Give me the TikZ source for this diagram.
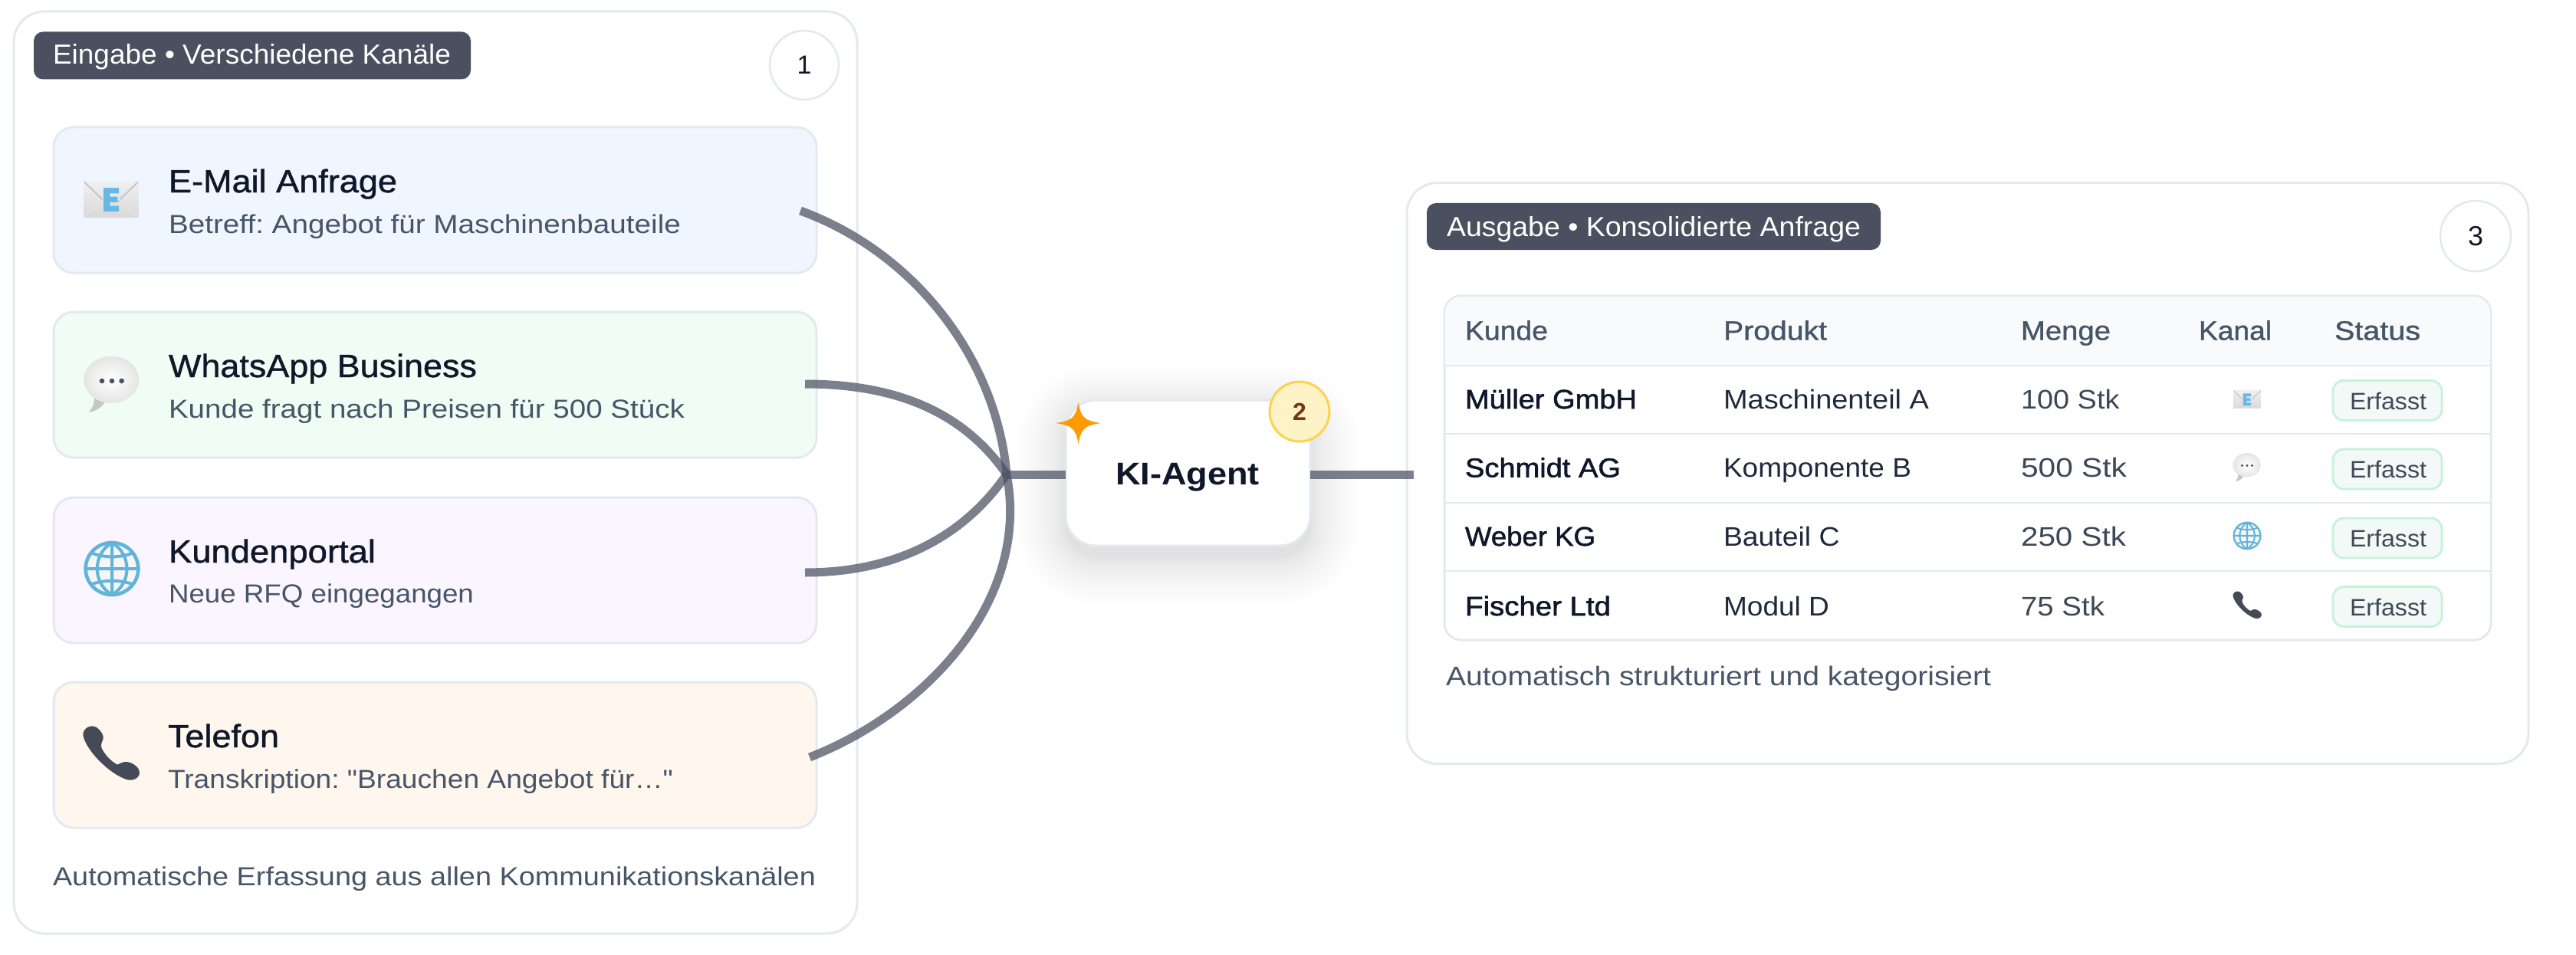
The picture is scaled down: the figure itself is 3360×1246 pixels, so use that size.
\documentclass[tikz,border=0pt]{standalone}
\usepackage{graphicx}
\usepackage{fontspec}
\setmainfont{Liberation Sans}
\newfontfamily\plainfont[Ligatures=ResetAll]{Liberation Sans}
\newfontfamily\medfont[FakeBold=1.0]{Liberation Sans}
\newfontfamily\semifont[FakeBold=1.6]{Liberation Sans}
\usetikzlibrary{calc}
\frenchspacing
\definecolor{edge}{HTML}{E4E9F1}
\definecolor{tagfill}{HTML}{4A5060}
\definecolor{ink}{HTML}{0F172A}
\definecolor{subink}{HTML}{475569}
\definecolor{rowink}{HTML}{1E293B}
\definecolor{wire}{HTML}{4A5060}
\definecolor{pillfill}{HTML}{F2F9F6}
\definecolor{pilledge}{HTML}{C6F3D8}
\definecolor{cardblue}{HTML}{EFF6FF}
\definecolor{cardgreen}{HTML}{F0FDF4}
\definecolor{cardviolet}{HTML}{FAF5FF}
\definecolor{cardorange}{HTML}{FFF7ED}
\definecolor{headfill}{HTML}{F8FAFC}
\definecolor{skyline}{HTML}{62B4DA}
\definecolor{skyletter}{HTML}{66B8E6}
\definecolor{starfill}{HTML}{FF9A05}
\definecolor{badgefill}{HTML}{FEF3C7}
\definecolor{badgeedge}{HTML}{FCD34D}
\definecolor{badgeink}{HTML}{78350F}
\newsavebox\fitbox
% text scaled horizontally to a width given in reference pixels
\newcommand\fitw[2]{\sbox\fitbox{#2}\pgfmathparse{#1*0.5/\the\wd\fitbox}\scalebox{\pgfmathresult}[1]{\usebox\fitbox}}
\newcommand\fs[1]{\pgfmathparse{#1/2}\fontsize{\pgfmathresult pt}{\pgfmathresult pt}\selectfont}
\tikzset{
  panelbox/.style={draw=edge,line width=1.5pt,fill=white,rounded corners=20pt,inner sep=0,outer sep=0},
  cardbox/.style={draw=edge,line width=1.5pt,rounded corners=13pt,inner sep=0,outer sep=0,minimum width=497.5pt,minimum height=95pt},
  tagbox/.style={fill=tagfill,rounded corners=6pt,inner sep=0,outer sep=0},
  numbox/.style={circle,draw=edge,line width=1.3pt,fill=white,inner sep=0,outer sep=0},
  lbl/.style={inner sep=0,outer sep=0,anchor=base west},
  mid/.style={inner sep=0,outer sep=0,anchor=base},
  wireline/.style={draw=wire,draw opacity=.72,line width=5.5pt,line cap=butt},
  pillbox/.style={draw=pilledge,fill=pillfill,line width=1.4pt,rounded corners=7pt,inner sep=0,outer sep=0,minimum width=71pt,minimum height=26pt},
}
\newcommand\iconmail[3]{\begin{scope}[shift={(#1,#2)},scale=#3,shift={(-165,-180)}]
  \shade[top color=gray!12,bottom color=gray!30] (58,110) rectangle (272,250);
  \draw[gray!45,line width=#3*3pt] (60,112) -- (140,190) (270,112) -- (190,190);
  \draw[gray!20,line width=#3*2pt] (60,248) -- (140,175) (270,248) -- (190,175);
  \fill[skyletter] (135,135) -- (195,135) -- (195,157) -- (160,157) -- (160,170) -- (190,170) -- (190,192) -- (160,192) -- (160,206) -- (195,206) -- (195,228) -- (135,228) -- cycle;
\end{scope}}
\newcommand\iconchat[3]{\begin{scope}[shift={(#1,#2)},scale=#3,shift={(-167,-187)}]
  \fill[gray!45] (98,235) .. controls (98,265) and (90,280) .. (76,293) .. controls (105,292) and (125,275) .. (140,255) -- cycle;
  \shade[inner color=white,middle color=white,outer color=white!80!gray,shading=radial] (165,167) ellipse [x radius=108,y radius=92];
  \fill[tagfill] (128,172) circle [radius=10] (167,172) circle [radius=10] (205,172) circle [radius=10];
\end{scope}}
\newcommand\iconglobe[3]{\begin{scope}[shift={(#1,#2)},scale=#3,shift={(-167,-187)}]
  \filldraw[fill=gray!7,draw=skyline,line width=#3*7pt] (167,187) ellipse [x radius=103,y radius=102];
  \draw[skyline,line width=#3*6pt] (167,85) -- (167,289) (167,85) .. controls (90,130) and (90,245) .. (167,289) (167,85) .. controls (245,130) and (245,245) .. (167,289) (65,187) -- (269,187) (88,125) .. controls (130,145) and (205,145) .. (248,125) (88,248) .. controls (130,230) and (205,230) .. (248,248);
\end{scope}}
\newcommand\iconphone[3]{\begin{scope}[shift={(#1,#2)},scale=#3,shift={(-165,-187)}]
  \fill[tagfill!92!black] (55,118) .. controls (55,90) and (85,75) .. (108,88) .. controls (125,100) and (138,122) .. (134,132) .. controls (130,145) and (122,155) .. (128,170) .. controls (142,198) and (168,224) .. (190,234) .. controls (205,226) and (220,218) .. (240,226) .. controls (262,235) and (278,250) .. (276,268) .. controls (272,292) and (240,302) .. (215,288) .. controls (150,262) and (65,175) .. (55,118) -- cycle;
\end{scope}}
\begin{document}
\begin{tikzpicture}[x=0.5pt,y=-0.5pt]
\useasboundingbox (0,0) rectangle (3360,1246);
\fill[white] (0,0) rectangle (3360,1246);

% left panel
\node[panelbox,minimum width=550pt,minimum height=601.5pt] (inpanel) at (568,616.5) {};
\node[tagbox,minimum width=285pt,minimum height=31pt] (intag) at (329,72.5) {};
\node[lbl,text=white] (intagtxt) at (69,84) {\fs{36}\fitw{519}{Eingabe • Verschiedene Kanäle}};
\node[numbox,minimum size=45pt] (num1) at (1049,85) {};
\node[mid,text=ink] (num1txt) at (1049,97) {\fs{34}1};

\node[cardbox,fill=cardblue] (card1) at (567.5,261) {};
\node[cardbox,fill=cardgreen] (card2) at (567.5,502) {};
\node[cardbox,fill=cardviolet] (card3) at (567.5,744) {};
\node[cardbox,fill=cardorange] (card4) at (567.5,985) {};
\iconmail{145}{260}{.3333}
\iconchat{146}{502}{.3333}
\iconglobe{146}{742}{.3333}
\iconphone{145}{982}{.3333}
\node[lbl,text=ink] (t1) at (220,251) {\fs{42}\medfont\fitw{298}{E-Mail Anfrage}};
\node[lbl,text=subink] (s1) at (220,304) {\fs{34}\fitw{668}{Betreff: Angebot für Maschinenbauteile}};
\node[lbl,text=ink] (t2) at (220,492) {\fs{42}\medfont\fitw{402}{WhatsApp Business}};
\node[lbl,text=subink] (s2) at (220,545) {\fs{34}\fitw{673}{Kunde fragt nach Preisen für 500 Stück}};
\node[lbl,text=ink] (t3) at (220,734) {\fs{42}\medfont\fitw{270}{Kundenportal}};
\node[lbl,text=subink] (s3) at (220,786.5) {\fs{34}\fitw{398}{Neue RFQ eingegangen}};
\node[lbl,text=ink] (t4) at (219,975) {\fs{42}\medfont\fitw{145}{Telefon}};
\node[lbl,text=subink] (s4) at (219,1028) {\fs{34}\plainfont\fitw{659}{Transkription: "Brauchen Angebot für…"}};
\node[lbl,text=subink] (infoot) at (69,1155) {\fs{34}\fitw{995}{Automatische Erfassung aus allen Kommunikationskanälen}};

% right panel
\node[panelbox,minimum width=731.5pt,minimum height=379pt] (outpanel) at (2566.5,617.5) {};
\node[tagbox,minimum width=296pt,minimum height=30.5pt] (outtag) at (2157,295.5) {};
\node[lbl,text=white] (outtagtxt) at (1887,308) {\fs{36}\fitw{540}{Ausgabe • Konsolidierte Anfrage}};
\node[numbox,minimum size=46pt] (num3) at (3229,308) {};
\node[mid,text=ink] (num3txt) at (3229,320.5) {\fs{36}3};

% table
\node[draw=edge,line width=1.5pt,fill=white,rounded corners=11pt,inner sep=0,outer sep=0,minimum width=682.5pt,minimum height=224.5pt] (tbl) at (2566.5,610.5) {};
\fill[headfill] (1885,477) {[rounded corners=10.5pt] -- (1885,387) -- (3248,387)} -- (3248,477) -- cycle;
\draw[edge,line width=1.4pt] (1884,477) -- (3249,477) (1884,566) -- (3249,566) (1884,656) -- (3249,656) (1884,745) -- (3249,745);
\node[lbl,text=subink] (h1) at (1911,443.5) {\fs{35}\medfont\fitw{108}{Kunde}};
\node[lbl,text=subink] (h2) at (2248,443.5) {\fs{35}\medfont\fitw{135}{Produkt}};
\node[lbl,text=subink] (h3) at (2636,443.5) {\fs{35}\medfont\fitw{117}{Menge}};
\node[lbl,text=subink] (h4) at (2868,443.5) {\fs{35}\medfont\fitw{95}{Kanal}};
\node[lbl,text=subink] (h5) at (3045,443.5) {\fs{35}\medfont\fitw{112}{Status}};

\node[lbl,text=ink] (r1a) at (1911,533) {\fs{35}\semifont\fitw{224}{Müller GmbH}};
\node[lbl,text=rowink] (r1b) at (2248,533) {\fs{35}\fitw{268}{Maschinenteil A}};
\node[lbl,text=subink!85!black] (r1c) at (2636,533) {\fs{35}\fitw{128.5}{100 Stk}};
\node[lbl,text=ink] (r2a) at (1911,622.5) {\fs{35}\semifont\fitw{203}{Schmidt AG}};
\node[lbl,text=rowink] (r2b) at (2248,622.5) {\fs{35}\fitw{245}{Komponente B}};
\node[lbl,text=subink!85!black] (r2c) at (2636,622.5) {\fs{35}\fitw{138}{500 Stk}};
\node[lbl,text=ink] (r3a) at (1911,712) {\fs{35}\semifont\fitw{170}{Weber KG}};
\node[lbl,text=rowink] (r3b) at (2248,712) {\fs{35}\fitw{151.5}{Bauteil C}};
\node[lbl,text=subink!85!black] (r3c) at (2636,712) {\fs{35}\fitw{137}{250 Stk}};
\node[lbl,text=ink] (r4a) at (1911,803) {\fs{35}\semifont\fitw{190}{Fischer Ltd}};
\node[lbl,text=rowink] (r4b) at (2248,803) {\fs{35}\fitw{138}{Modul D}};
\node[lbl,text=subink!85!black] (r4c) at (2636,803) {\fs{35}\fitw{109}{75 Stk}};
\iconmail{2931}{521}{.169}
\iconchat{2931}{610}{.169}
\iconglobe{2931}{699}{.169}
\iconphone{2931}{789}{.169}
\node[pillbox] (p1) at (3114,522.5) {};
\node[pillbox] (p2) at (3114,612) {};
\node[pillbox] (p3) at (3114,702) {};
\node[pillbox] (p4) at (3114,791.5) {};
\node[mid,text=rowink!85!white] (p1t) at (3115,534) {\fs{31}\fitw{100}{Erfasst}};
\node[mid,text=rowink!85!white] (p2t) at (3115,623.5) {\fs{31}\fitw{100}{Erfasst}};
\node[mid,text=rowink!85!white] (p3t) at (3115,713.5) {\fs{31}\fitw{100}{Erfasst}};
\node[mid,text=rowink!85!white] (p4t) at (3115,803) {\fs{31}\fitw{100}{Erfasst}};
\node[lbl,text=subink] (outfoot) at (1886,894.5) {\fs{35}\fitw{711}{Automatisch strukturiert und kategorisiert}};

% agent shadow
\foreach \k in {1,...,30}{
  \pgfmathsetmacro\ee{64*pow(\k/30,1.6)}
  \pgfmathsetmacro\rr{20+\ee/2}
  \fill[black!70!blue,fill opacity=.0042,rounded corners=\rr pt] ({1390-\ee},{522+12-\ee*.9}) rectangle ({1709+\ee},{712+14+\ee});
}

% connectors
\coordinate (junction) at (1313,619);
\coordinate (c1) at (1044,275);
\coordinate (c2) at (1050,501);
\coordinate (c3) at (1050,747);
\coordinate (c4) at (1056,988);
\coordinate (outp) at (1844,619);
\node[draw=edge,line width=1.5pt,fill=white,rounded corners=20pt,inner sep=0,outer sep=0,minimum width=159.5pt,minimum height=95pt] (agent) at (1549.5,617) {};
\draw[wireline] (c1) .. controls (1195,330) and (1300,470) .. (junction);
\draw[wireline] (c2) .. controls (1165,501) and (1255,535) .. (junction);
\draw[wireline] (c3) .. controls (1165,747) and (1255,703) .. (junction);
\draw[wireline] (c4) .. controls (1205,930) and (1345,785) .. (junction);
\draw[wireline] (junction) -- (junction -| agent.west);
\draw[wireline] (junction -| agent.east) -- (outp);
\node[mid,text=ink] (agenttxt) at (1549,632) {\fs{41}\bfseries\fitw{188}{KI-Agent}};
\fill[starfill] (1406.5,525) .. controls (1410,545) and (1415,549) .. (1436,552) .. controls (1415,555) and (1410,559) .. (1406.5,579) .. controls (1403,559) and (1398,555) .. (1377,552) .. controls (1398,549) and (1403,545) .. (1406.5,525) -- cycle;
\node[circle,draw=badgeedge,fill=badgefill,line width=1.5pt,minimum size=39pt,inner sep=0,outer sep=0] (num2) at (1695,537) {};
\node[mid,text=badgeink] (num2txt) at (1695,548) {\fs{32}\bfseries 2};
\end{tikzpicture}
\end{document}
